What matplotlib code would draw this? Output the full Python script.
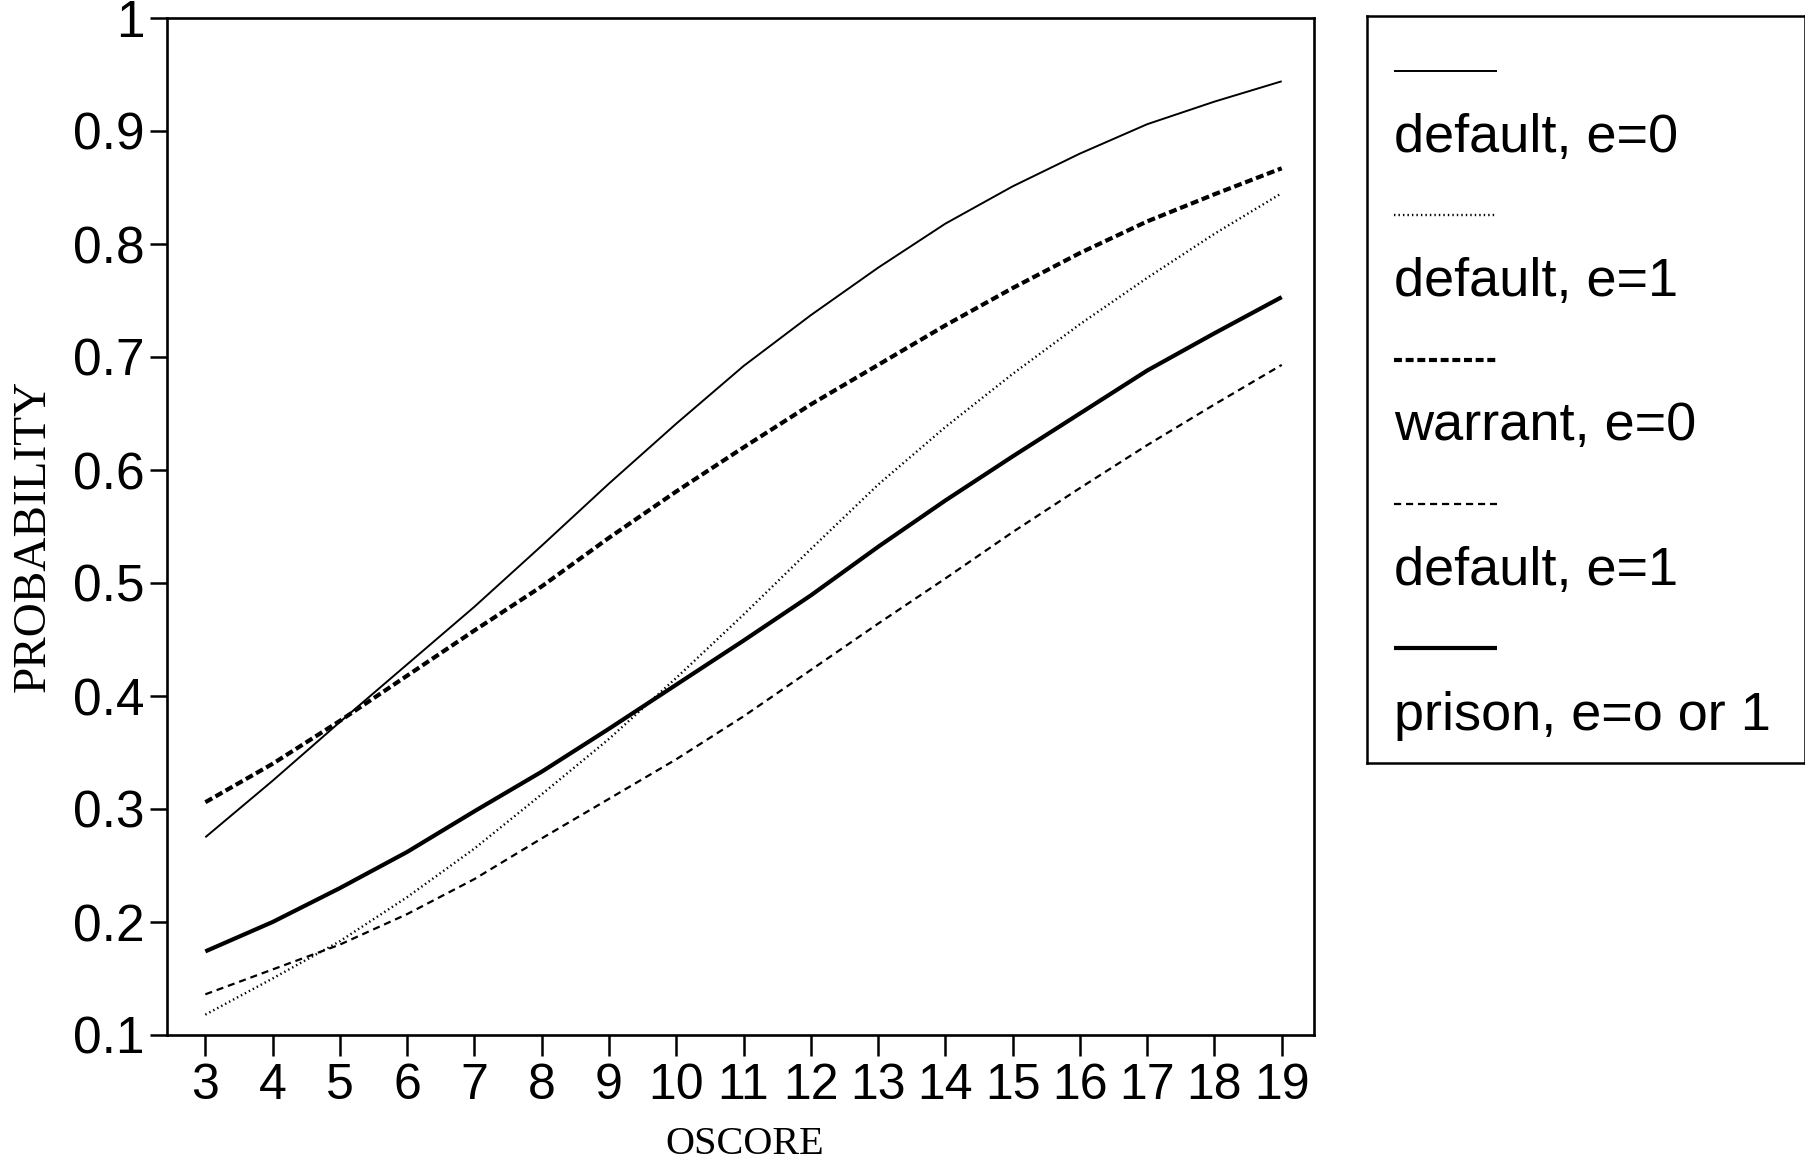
import matplotlib
matplotlib.use("Agg")
import matplotlib.pyplot as plt
from matplotlib.lines import Line2D

# ---- data ----
oscore = [3, 4, 5, 6, 7, 8, 9, 10, 11, 12, 13, 14, 15, 16, 17, 18, 19]
default_e0 = [0.275, 0.325, 0.377, 0.428, 0.479, 0.533, 0.588, 0.641, 0.692,
              0.737, 0.779, 0.818, 0.851, 0.880, 0.906, 0.926, 0.944]
default_e1_dot = [0.118, 0.150, 0.183, 0.222, 0.265, 0.313, 0.362, 0.416, 0.472,
                  0.530, 0.587, 0.638, 0.685, 0.729, 0.770, 0.809, 0.845]
warrant_e0 = [0.306, 0.340, 0.378, 0.418, 0.458, 0.497, 0.540, 0.581, 0.620,
              0.658, 0.693, 0.728, 0.761, 0.792, 0.820, 0.844, 0.867]
default_e1_dash = [0.136, 0.158, 0.180, 0.207, 0.238, 0.274, 0.309, 0.344, 0.382,
                   0.423, 0.464, 0.504, 0.545, 0.584, 0.622, 0.658, 0.693]
prison = [0.174, 0.200, 0.230, 0.262, 0.298, 0.333, 0.371, 0.410, 0.449,
          0.489, 0.532, 0.573, 0.612, 0.650, 0.688, 0.721, 0.753]

legend_labels = ["default, e=0", "default, e=1", "warrant, e=0",
                 "default, e=1", "prison, e=o or 1"]
yticks = [0.1, 0.2, 0.3, 0.4, 0.5, 0.6, 0.7, 0.8, 0.9, 1.0]
ytick_labels = ["0.1", "0.2", "0.3", "0.4", "0.5", "0.6", "0.7", "0.8", "0.9", "1"]

# ---- styles ----
styles = [
    dict(color="black", lw=1.4, linestyle="-"),
    dict(color="black", lw=1.7, linestyle=(0, (0.6, 1.3))),
    dict(color="black", lw=3.0, linestyle=(0, (1.9, 0.9))),
    dict(color="black", lw=1.6, linestyle=(0, (3.2, 2.2))),
    dict(color="black", lw=3.0, linestyle="-"),
]
series = [default_e0, default_e1_dot, warrant_e0, default_e1_dash, prison]

sans = ["Liberation Sans", "DejaVu Sans"]
serif = ["Liberation Serif", "DejaVu Serif"]

W, H = 1806, 1166
fig = plt.figure(figsize=(W / 100, H / 100), dpi=100)
ax = fig.add_axes([167 / W, 1 - 1035 / H, (1314 - 167) / W, (1035 - 18) / H])

for ys, st in zip(series, styles):
    ax.plot(oscore, ys, solid_capstyle="butt", dash_capstyle="butt",
            solid_joinstyle="round", **st)

ax.set_xlim(2.43, 19.48)
ax.set_ylim(0.1, 1.0)
ax.set_xticks(oscore)
ax.set_xticklabels([str(v) for v in oscore], family=sans, fontsize=36)
ax.set_yticks(yticks)
ax.set_yticklabels(ytick_labels, family=sans, fontsize=37)
ax.tick_params(axis="y", direction="out", length=12, width=1.8, pad=4)
ax.tick_params(axis="x", direction="out", length=15, width=1.8, pad=5)
for sp in ax.spines.values():
    sp.set_linewidth(1.9)

fig.text(745 / W, 1 - 1144 / H, "OSCORE", family=serif, fontsize=29,
         ha="center", va="center")
fig.text(33 / W, 1 - 536 / H, "PROBABILITY", family=serif, fontsize=34,
         ha="center", va="center", rotation=90)

# ---- legend box (handle above label) ----
lax = fig.add_axes([1367 / W, 1 - 763 / H, (1806 - 1367 - 1) / W, (763 - 16) / H])
lax.set_xlim(1367, 1805)
lax.set_ylim(763, 16)
lax.set_xticks([])
lax.set_yticks([])
for sp in lax.spines.values():
    sp.set_linewidth(1.8)
handle_y = [71, 215, 360, 504, 648]
label_y = [138, 282, 426, 571, 716]
for st, hy, ly, lab in zip(styles, handle_y, label_y, legend_labels):
    lax.add_line(Line2D([1394, 1497], [hy, hy], solid_capstyle="butt",
                        dash_capstyle="butt", **st))
    lax.text(1394, ly, lab, family=sans, fontsize=39, ha="left", va="center")

fig.savefig("out.png", dpi=100, facecolor="white")
